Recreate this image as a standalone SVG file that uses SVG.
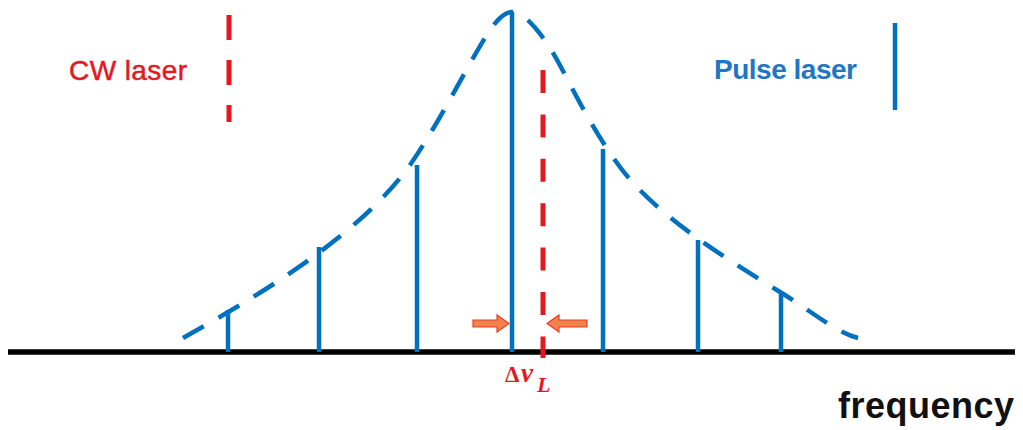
<svg xmlns="http://www.w3.org/2000/svg" width="1023" height="430" viewBox="0 0 1023 430">
<style>
.blue{stroke:#0070C0;stroke-width:4.5;fill:none}
.red{stroke:#E3191F;stroke-width:5;fill:none}
.arrow{fill:#F4804A;stroke:#E8402A;stroke-width:1.2}
.lbl{font-family:"Liberation Sans",Arial,sans-serif;font-size:28px}
.math{font-family:"Liberation Serif","Times New Roman",serif;font-weight:bold;fill:#E3191F}
</style>
<rect width="1023" height="430" fill="#ffffff"/>
<g id="axis">
<line x1="8" y1="352" x2="1015" y2="352" stroke="#000" stroke-width="5.5"/>
<text x="838" y="418" font-family="Liberation Sans,Arial,sans-serif" font-weight="bold" font-size="36" fill="#111" textLength="176">frequency</text>
</g>
<g id="envelope">
<path class="blue" stroke-width="5" stroke-dasharray="24 17" d="M183,338 C260,295 360,235 410,165 C440,122 470,60 490,30 C498,18 506,12 512,12 C522,12 535,25 550,48 C565,71 585,120 620,167 C655,214 720,255 780,292 C810,310 835,332 858,338"/>
</g>
<g id="pulses">
<line class="blue" x1="228" y1="310" x2="228" y2="352"/>
<line class="blue" x1="319" y1="247" x2="319" y2="352"/>
<line class="blue" x1="417" y1="165" x2="417" y2="352"/>
<line class="blue" x1="512" y1="12" x2="512" y2="352"/>
<line class="blue" x1="603" y1="149" x2="603" y2="352"/>
<line class="blue" x1="698" y1="240" x2="698" y2="352"/>
<line class="blue" x1="781" y1="294" x2="781" y2="352"/>
</g>
<g id="cw-line">
<line class="red" x1="543" y1="70" x2="543" y2="358" stroke-dasharray="23 21.4"/>
</g>
<g id="linewidth-marker">
<path class="arrow" d="M473,320 L497,320 L497,315 L509,323.5 L497,332 L497,327 L473,327 Z"/>
<path class="arrow" d="M587,320 L559,320 L559,315 L547,323.5 L559,332 L559,327 L587,327 Z"/>
<text class="math" x="505" y="382" font-size="23">Δ<tspan x="521" font-style="italic" font-size="27">v</tspan><tspan x="537" y="392" font-style="italic" font-size="22">L</tspan></text>
</g>
<g id="legend-cw">
<text class="lbl" x="69" y="80" fill="#E3191F" textLength="118" stroke="#E3191F" stroke-width="0.5">CW laser</text>
<line class="red" x1="229" y1="15" x2="229" y2="122" stroke-dasharray="25 20"/>
</g>
<g id="legend-pulse">
<text class="lbl" x="714" y="79" fill="#1F77C4" font-weight="bold" textLength="143">Pulse laser</text>
<line class="blue" x1="895" y1="23" x2="895" y2="110"/>
</g>
</svg>
